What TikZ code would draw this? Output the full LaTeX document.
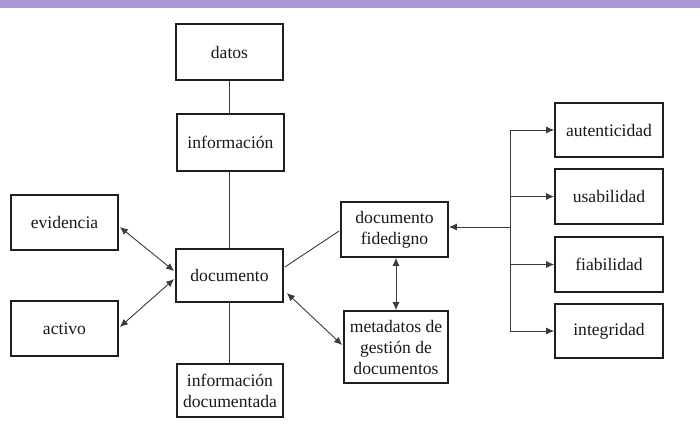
\documentclass[tikz,border=0pt]{standalone}
\usepackage{fontspec}
\setmainfont{Liberation Serif}
\usetikzlibrary{arrows.meta,calc}
\definecolor{barpurple}{HTML}{A899D4}
\definecolor{boxline}{HTML}{1E1E1E}
\definecolor{conn}{HTML}{3A3A3A}
\tikzset{
  box/.style={draw=boxline,line width=1.7pt,inner sep=0pt,align=center,
    font=\fontsize{17.6}{21}\selectfont,text=black!90},
  link/.style={draw=conn,line width=0.9pt},
  tip/.style={-{Latex[length=8pt,width=7pt]}},
  tips/.style={{Latex[length=8pt,width=7pt]}-{Latex[length=8pt,width=7pt]}}
}
\begin{document}
\begin{tikzpicture}[x=1pt,y=-1pt]
\useasboundingbox (0,0) rectangle (700,426);
\fill[barpurple] (0,0) rectangle (700,8);
% nodes
\node[box,minimum width=107pt,minimum height=56pt] (datos) at (229.5,52) {datos};
\node[box,minimum width=107pt,minimum height=57pt] (info) at (230.5,142.5) {información};
\node[box,minimum width=107pt,minimum height=55pt] (evid) at (64.5,222.5) {evidencia};
\node[box,minimum width=107pt,minimum height=55pt] (activo) at (64.5,328.5) {activo};
\node[box,minimum width=107pt,minimum height=53pt] (doc) at (229.5,275.5) {documento};
\node[box,minimum width=106pt,minimum height=53pt] (infodoc) at (230,390.5) {información\\documentada};
\node[box,minimum width=107pt,minimum height=55pt] (fide) at (394.5,229.5) {documento\\fidedigno};
\node[box,minimum width=104pt,minimum height=72pt] (meta) at (396,347) {metadatos de\\gestión de\\documentos};
\node[box,minimum width=108pt,minimum height=54pt] (aut) at (609,130) {autenticidad};
\node[box,minimum width=108pt,minimum height=55pt] (usa) at (609,196.5) {usabilidad};
\node[box,minimum width=108pt,minimum height=55pt] (fia) at (609,264.5) {fiabilidad};
\node[box,minimum width=108pt,minimum height=54pt] (inte) at (609,331) {integridad};
% vertical chain
\draw[link] (datos.south) -- (datos.south |- info.north);
\draw[link] (doc.north |- info.south) -- (doc.north);
\draw[link] (doc.south) -- (doc.south |- infodoc.north);
% left arrows
\draw[link,tips] ($(evid.east)+(1,4.5)$) -- ($(doc.west)+(-1,-4.5)$);
\draw[link,tips] ($(activo.east)+(1,-1.5)$) -- ($(doc.west)+(-1,3.5)$);
% documento to fidedigno
\draw[link] ($(doc.east)+(1,-8.5)$) -- ($(fide.west)+(-1,1.5)$);
% documento to metadatos
\draw[link,tips] ($(doc.east)+(3,17.5)$) -- ($(meta.west)+(-1,-2)$);
% fidedigno to metadatos
\draw[link,tips] ($(fide.south)+(1.5,0)$) -- (meta.north);
% right tree
\coordinate (ttop) at (510,0);
\draw[link] (ttop |- aut.west) -- (ttop |- inte.west);
\draw[link,tip] ($(ttop |- fide.east)+(0,-2.5)$) -- ($(fide.east)+(0,-2.5)$);
\draw[link,tip] (ttop |- aut.west) -- (aut.west);
\draw[link,tip] (ttop |- usa.west) -- (usa.west);
\draw[link,tip] (ttop |- fia.west) -- (fia.west);
\draw[link,tip] (ttop |- inte.west) -- (inte.west);
\end{tikzpicture}
\end{document}
